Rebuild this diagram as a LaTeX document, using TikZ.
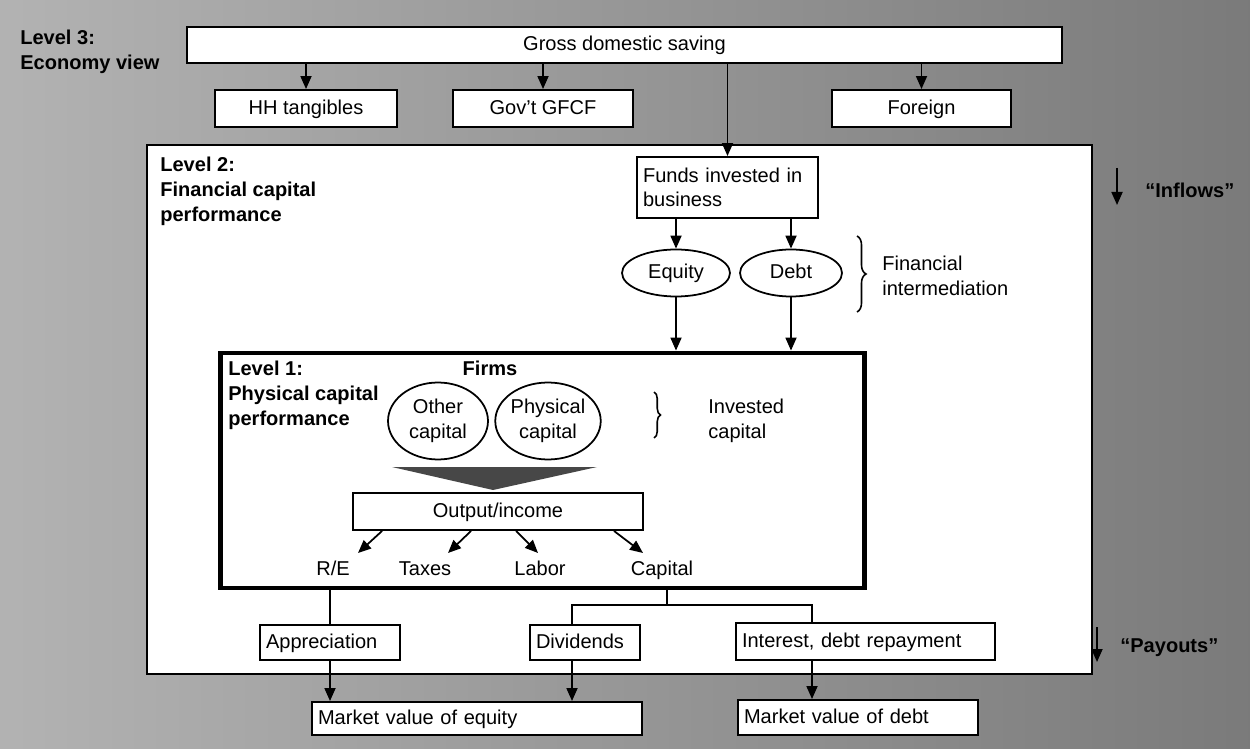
\documentclass[tikz,border=0pt]{standalone}
\usepackage{fontspec}
\setmainfont{Liberation Sans}
\usetikzlibrary{arrows.meta,shapes.geometric,decorations.pathreplacing}

\begin{document}
\begin{tikzpicture}[x=0.02cm, y=-0.02cm,
        every node/.style={font=\fontsize{11.4}{14}\selectfont},
        umalinha/.style={text height=1.65ex, text depth=0.45ex},
        caixa/.style={draw, fill=white, line width=1.1pt, inner sep=0pt, minimum height=0.72cm},
        caixaesq/.style={caixa, align=left, inner xsep=0.12cm},
        elipse/.style={draw, fill=white, ellipse, line width=1pt, inner sep=0pt, align=center},
        titulo/.style={font=\fontsize{11.4}{14}\selectfont\bfseries, align=left, anchor=north west, inner sep=0pt},
        texto/.style={align=left, anchor=north west, inner sep=0pt},
        seta/.style={-{Triangle[length=0.26cm, width=0.22cm]}, line width=1pt},
        linha/.style={line width=1pt},
        chave/.style={decorate, decoration={brace, amplitude=#1}, line width=0.9pt}]

        % Fundo
        \useasboundingbox (0,0) rectangle (1250,749);
        \shade[left color=black!30, right color=black!52] (0,0) rectangle (1250,749);

        % Nivel 3
        \node[titulo] (nivel3) at (20,30) {Level 3:\\Economy view};
        \node[caixa, umalinha, minimum width=17.5cm] (gds) at (624.5,45) {Gross domestic saving};
        \node[caixa, umalinha, minimum width=3.64cm, minimum height=0.74cm] (hh) at (306,108.5) {HH tangibles};
        \node[caixa, umalinha, minimum width=3.6cm, minimum height=0.74cm] (gov) at (543,108.5) {Gov't GFCF};
        \node[caixa, umalinha, minimum width=3.58cm, minimum height=0.74cm] (ext) at (921.5,108.5) {Foreign};

        % Nivel 2
        \node[draw, fill=white, line width=1.3pt, minimum width=18.9cm, minimum height=10.58cm, inner sep=0pt] (nivel2) at (619.5,409.5) {};
        \node[titulo] (rot2) at (160,157) {Level 2:\\Financial capital\\performance};
        \node[caixaesq, text width=3.38cm, minimum height=1.22cm] (fundos) at (727.5,187.5) {Funds invested in\\business};
        \node[elipse, umalinha, minimum width=2.16cm, minimum height=0.94cm] (equity) at (676,273) {Equity};
        \node[elipse, umalinha, minimum width=2.04cm, minimum height=0.94cm] (debt) at (791,273) {Debt};
        \draw[chave=0.18cm] (857,236) -- (857,312);
        \node[texto] (interm) at (882,256) {Financial\\intermediation};

        % Setas do nivel 3
        \draw[seta] (gds.south -| hh.north) -- (hh.north);
        \draw[seta] (gds.south -| gov.north) -- (gov.north);
        \draw[seta] (gds.south -| ext.north) -- (ext.north);
        \draw[seta] (gds.south -| fundos.north) -- (fundos.north);
        \draw[seta] (fundos.south -| equity.north) -- (equity.north);
        \draw[seta] (fundos.south -| debt.north) -- (debt.north);

        % Nivel 1
        \node[draw, fill=white, line width=2.8pt, minimum width=12.9cm, minimum height=4.7cm, inner sep=0pt] (nivel1) at (542.5,470.5) {};
        \draw[seta] (equity.south) -- (equity.south |- nivel1.north);
        \draw[seta] (debt.south) -- (debt.south |- nivel1.north);
        \node[titulo] (rot1) at (228,361) {Level 1:\\Physical capital\\performance};
        \node[umalinha, font=\fontsize{11.4}{14}\selectfont\bfseries] (firmas) at (490,370) {Firms};
        \node[elipse, minimum width=2cm, minimum height=1.54cm] (outro) at (438,421) {Other\\capital};
        \node[elipse, minimum width=2cm, minimum height=1.54cm] (fisico) at (548,421) {Physical\\capital};
        \draw[chave=0.13cm] (654,392) -- (654,438);
        \node[texto] (investido) at (708,399) {Invested\\capital};
        \fill[black!72] (392,467) -- (597,467) -- (493,490) -- cycle;
        \node[caixa, umalinha, minimum width=5.8cm, minimum height=0.74cm] (saida) at (498,511.5) {Output/income};

        % Destino da renda
        \node[umalinha] (re) at (333,570) {R/E};
        \node[umalinha] (taxes) at (425,570) {Taxes};
        \node[umalinha] (labor) at (540,570) {Labor};
        \node[umalinha] (capital) at (662,570) {Capital};
        \coordinate (pRE) at (358,553);
        \coordinate (pTax) at (448,553);
        \coordinate (pLab) at (538,553);
        \coordinate (pCap) at (643,553);
        \draw[seta] ([xshift=0.6cm]saida.south west) -- (pRE);
        \draw[seta] ([xshift=2.38cm]saida.south west) -- (pTax);
        \draw[seta] ([xshift=3.28cm]saida.south west) -- (pLab);
        \draw[seta] ([xshift=5.24cm]saida.south west) -- (pCap);

        % Pagamentos
        \node[caixaesq, umalinha, text width=2.56cm, minimum height=0.7cm] (aprec) at (330,642.5) {Appreciation};
        \node[caixaesq, umalinha, text width=1.96cm, minimum height=0.7cm] (divid) at (585,642.5) {Dividends};
        \node[caixaesq, umalinha, text width=4.94cm, minimum height=0.74cm] (juros) at (865.5,641.5) {Interest, debt repayment};
        \node[caixaesq, umalinha, text width=6.36cm, minimum height=0.66cm] (mve) at (477,718.5) {Market value of equity};
        \node[caixaesq, umalinha, text width=4.56cm, minimum height=0.7cm] (mvd) at (858,717.5) {Market value of debt};

        \coordinate (ramo) at (667,605);
        \coordinate (ramoE) at (572,605);
        \coordinate (ramoD) at (812,605);
        \draw[linha] (nivel1.south -| aprec.north) -- (aprec.north);
        \draw[linha] (nivel1.south -| ramo) -- (ramo);
        \draw[linha] (ramoE |- divid.north) -- (ramoE) -- (ramoD) -- (ramoD |- juros.north);
        \draw[seta] (aprec.south) -- (aprec.south |- mve.north);
        \draw[seta] (ramoE |- divid.south) -- (ramoE |- mve.north);
        \draw[seta] (ramoD |- juros.south) -- (ramoD |- mvd.north);

        % Entradas e saidas
        \coordinate (entA) at (1117,168);
        \coordinate (entB) at (1117,205);
        \draw[seta] (entA) -- (entB);
        \node[titulo, anchor=west] (entradas) at (1145,190) {``Inflows''};
        \coordinate (saiA) at (1097,627);
        \coordinate (saiB) at (1097,662);
        \draw[seta] (saiA) -- (saiB);
        \node[titulo, anchor=west] (saidas) at (1120,648) {``Payouts''};
\end{tikzpicture}
\end{document}
